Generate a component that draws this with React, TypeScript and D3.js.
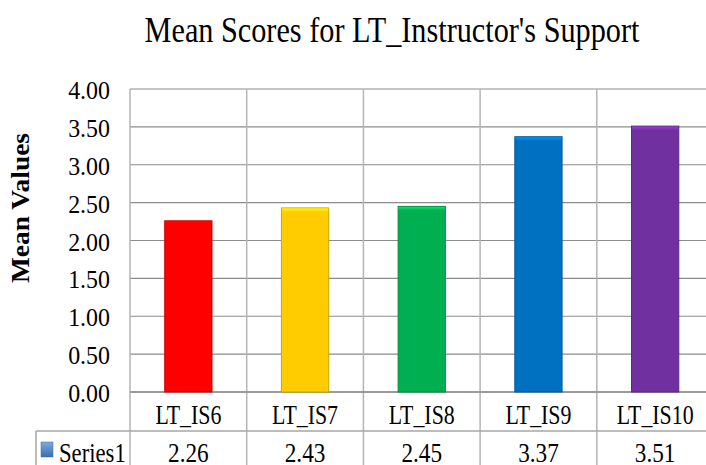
import React, { useEffect, useRef } from 'react';
import * as d3 from 'd3';

const categories = ['LT_IS6', 'LT_IS7', 'LT_IS8', 'LT_IS9', 'LT_IS10'];
const values = [2.26, 2.43, 2.45, 3.37, 3.51];
const barColors = ['#ff0000', '#ffcc00', '#00b050', '#0070c0', '#7030a0'];
const yTicks = [0, 0.5, 1, 1.5, 2, 2.5, 3, 3.5, 4];
const seriesName = 'Series1';
const title = "Mean Scores for LT_Instructor's Support";
const yLabel = 'Mean Values';

const FONT = 'Liberation Serif';

// squeeze a text horizontally, Times in the source is rendered narrow
const squeeze = (sel: d3.Selection<SVGTextElement, any, any, any>, k: number) => {
  sel.each(function () {
    const len = this.getComputedTextLength();
    d3.select(this).attr('textLength', len * k).attr('lengthAdjust', 'spacingAndGlyphs');
  });
};

const App: React.FC = () => {
  const svgRef = useRef<SVGSVGElement>(null);

  useEffect(() => {
    if (!svgRef.current) return;
    const svg = d3.select(svgRef.current);
    svg.selectAll('*').remove();

    const W = 706;
    const H = 465;
    const left = 130;
    const top = 89;
    const bottom = 392;
    const step = 116.7;
    const right = left + step * categories.length;
    const row1 = 431;
    const row2 = 475;
    const tableLeft = 36;

    svg.attr('width', W).attr('height', H);
    svg.append('rect').attr('width', W).attr('height', H).attr('fill', '#fff');

    const x = d3.scaleBand<string>().domain(categories).range([left, right]).paddingInner(0).paddingOuter(0);
    const y = d3.scaleLinear().domain([0, 4]).range([bottom, top]);

    // horizontal grid
    svg
      .append('g')
      .selectAll('line')
      .data(yTicks)
      .enter()
      .append('line')
      .attr('x1', left)
      .attr('x2', right)
      .attr('y1', (d) => y(d))
      .attr('y2', (d) => y(d))
      .attr('stroke', '#8c8c8c')
      .attr('stroke-width', 1.2);

    // vertical lines through plot and table
    const bounds = categories.map((c) => x(c) as number).concat([right]);
    svg
      .append('g')
      .selectAll('line')
      .data(bounds)
      .enter()
      .append('line')
      .attr('x1', (d) => d)
      .attr('x2', (d) => d)
      .attr('y1', top)
      .attr('y2', row2)
      .attr('stroke', '#b5b5b5')
      .attr('stroke-width', 1.5);

    // table row lines
    svg.append('line').attr('x1', tableLeft).attr('x2', right).attr('y1', row1).attr('y2', row1)
      .attr('stroke', '#a6a6a6').attr('stroke-width', 1.5);
    svg.append('line').attr('x1', left).attr('x2', right).attr('y1', bottom).attr('y2', bottom)
      .attr('stroke', '#8c8c8c').attr('stroke-width', 1.5);
    svg.append('line').attr('x1', tableLeft).attr('x2', tableLeft).attr('y1', row1).attr('y2', row2)
      .attr('stroke', '#a6a6a6').attr('stroke-width', 1.5);

    // bar gradients
    const defs = svg.append('defs');
    barColors.forEach((c, i) => {
      const g = defs.append('linearGradient').attr('id', `top${i}`).attr('x1', 0).attr('x2', 0).attr('y1', 0).attr('y2', 1);
      g.append('stop').attr('offset', '0%').attr('stop-color', d3.color(c)!.brighter(0.8).formatHex());
      g.append('stop').attr('offset', '100%').attr('stop-color', c);
    });
    const lg = defs.append('linearGradient').attr('id', 'legsq').attr('x1', 0).attr('x2', 0).attr('y1', 0).attr('y2', 1);
    lg.append('stop').attr('offset', '0%').attr('stop-color', '#7fa8dc');
    lg.append('stop').attr('offset', '100%').attr('stop-color', '#3a6eb0');

    const barW = x.bandwidth() * 0.405;
    const bars = svg.append('g');
    categories.forEach((c, i) => {
      const cx = (x(c) as number) + x.bandwidth() / 2;
      const y0 = y(values[i]);
      const col = d3.color(barColors[i])!;
      bars.append('rect')
        .attr('x', cx - barW / 2)
        .attr('y', y0)
        .attr('width', barW)
        .attr('height', bottom - y0)
        .attr('fill', barColors[i])
        .attr('stroke', col.darker(0.6).formatHex())
        .attr('stroke-width', 1);
      bars.append('rect')
        .attr('x', cx - barW / 2 + 0.5)
        .attr('y', y0 + 0.5)
        .attr('width', barW - 1)
        .attr('height', 3.5)
        .attr('fill', `url(#top${i})`);
    });

    // y tick labels
    svg
      .append('g')
      .selectAll('text')
      .data(yTicks)
      .enter()
      .append('text')
      .attr('x', 110)
      .attr('y', (d) => y(d) + 10)
      .attr('text-anchor', 'end')
      .style('font-family', FONT)
      .attr('font-size', 26)
      .attr('fill', '#000')
      .text((d) => d3.format('.2f')(d))
      .call(squeeze, 0.92);

    // category labels
    svg
      .append('g')
      .selectAll('text')
      .data(categories)
      .enter()
      .append('text')
      .attr('x', (d) => (x(d) as number) + x.bandwidth() / 2)
      .attr('y', 424)
      .attr('text-anchor', 'middle')
      .style('font-family', FONT)
      .attr('font-size', 28)
      .attr('fill', '#000')
      .text((d) => d)
      .call(squeeze, 0.78);

    // value row
    svg
      .append('g')
      .selectAll('text')
      .data(values)
      .enter()
      .append('text')
      .attr('x', (_d, i) => (x(categories[i]) as number) + x.bandwidth() / 2)
      .attr('y', 462)
      .attr('text-anchor', 'middle')
      .style('font-family', FONT)
      .attr('font-size', 27)
      .attr('fill', '#000')
      .text((d) => d3.format('.2f')(d))
      .call(squeeze, 0.86);

    // legend key
    svg.append('rect').attr('x', 41).attr('y', 442).attr('width', 12).attr('height', 15)
      .attr('fill', 'url(#legsq)').attr('stroke', '#3a6eb0').attr('stroke-width', 0.5);
    svg.append('text')
      .attr('x', 59)
      .attr('y', 462)
      .style('font-family', FONT)
      .attr('font-size', 27)
      .attr('fill', '#000')
      .text(seriesName)
      .call(squeeze, 0.84);

    // title
    svg.append('text')
      .attr('x', 392)
      .attr('y', 42)
      .attr('text-anchor', 'middle')
      .style('font-family', FONT)
      .attr('font-size', 36)
      .attr('fill', '#000')
      .text(title)
      .call(squeeze, 0.84);

    // y axis title
    svg.append('text')
      .attr('transform', `translate(29,208) rotate(-90)`)
      .attr('text-anchor', 'middle')
      .style('font-family', FONT)
      .attr('font-size', 25)
      .attr('font-weight', 'bold')
      .attr('fill', '#000')
      .text(yLabel)
      .attr('textLength', 150)
      .attr('lengthAdjust', 'spacingAndGlyphs');
  }, []);

  return (
    <svg
      ref={svgRef}
      style={{ position: 'absolute', left: 0, top: 0, display: 'block' }}
    />
  );
};

export default App;
